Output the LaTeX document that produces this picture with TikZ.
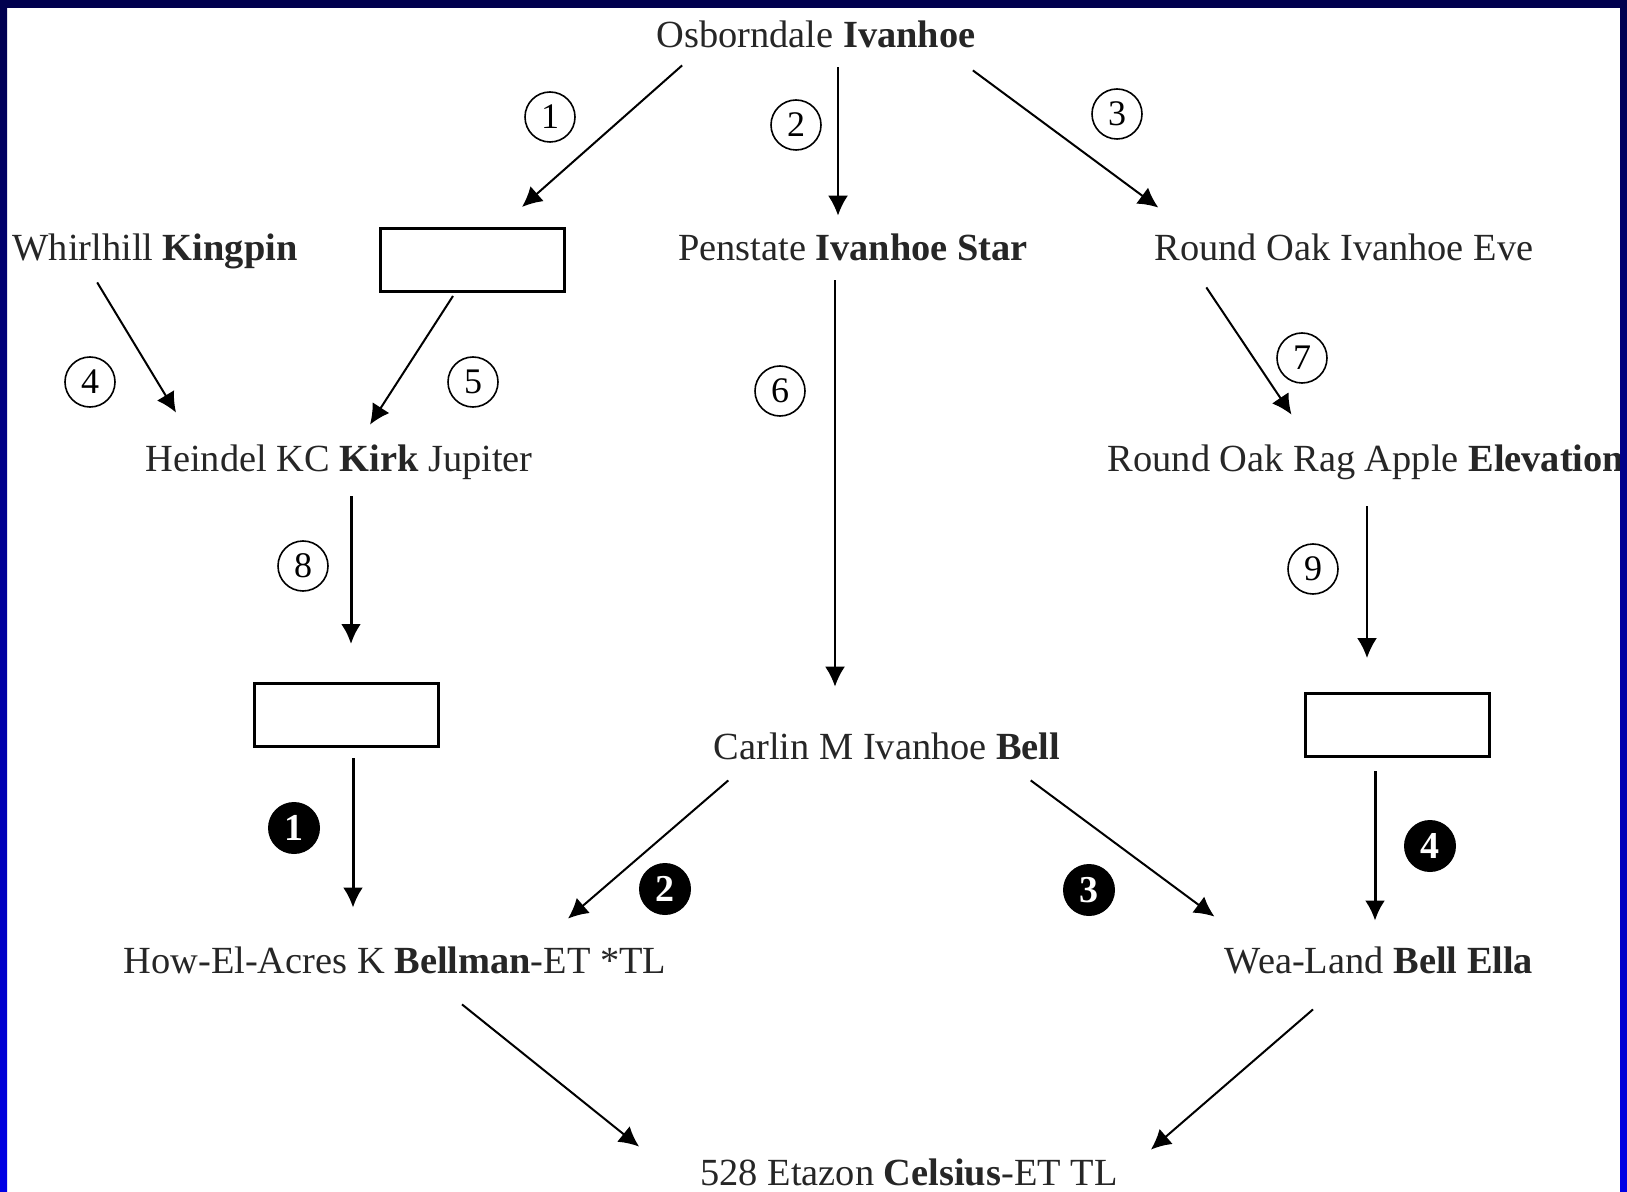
\documentclass[tikz,border=0pt]{standalone}
\usepackage{fontspec}
\setmainfont{Liberation Serif}
\usepackage{xcolor}
\usepackage{tikz}
\usetikzlibrary{arrows.meta,positioning,calc}

\definecolor{bandtop}{RGB}{0,0,78}
\definecolor{bandbot}{RGB}{0,0,230}

\tikzset{
  animal/.style={inner sep=0pt, text height=14pt, text depth=4pt,
    font=\fontsize{19.2}{24}\selectfont, text=black!85},
  blank/.style={draw, line width=1.5pt, minimum width=92pt,
    minimum height=31.5pt, inner sep=0pt},
  num/.style={circle, draw, line width=0.8pt, minimum size=25pt,
    inner sep=0pt, font=\fontsize{18}{20}\selectfont},
  bnum/.style={circle, fill=black, text=white, minimum size=26pt,
    inner sep=0pt, font=\bfseries\fontsize{19}{20}\selectfont},
  arr/.style={-{Latex[length=10pt,width=10pt]}, line width=1pt},
  tarr/.style={arr, line width=1.5pt}
}

\begin{document}
\begin{tikzpicture}[x=0.5pt, y=-0.5pt]
\useasboundingbox (0,0) rectangle (1627,1192);
\fill[white] (0,0) rectangle (1627,1192);

% Animals
\node[animal] (osb) at (816,38) {Osborndale \textbf{Ivanhoe}};
\node[animal] (whirl) at (155,251) {Whirlhill \textbf{Kingpin}};
\node[blank] (box1) at (472,260) {};
\node[animal] (pens) at (853,251) {Penstate \textbf{Ivanhoe Star}};
\node[animal] (eve) at (1344,251) {Round Oak Ivanhoe Eve};
\node[animal] (heindel) at (339,461) {Heindel KC \textbf{Kirk} Jupiter};
\node[animal] (elev) at (1366,461) {Round Oak Rag Apple \textbf{Elevation}};
\node[blank] (box2) at (346,715) {};
\node[animal] (carlin) at (887,749) {Carlin M Ivanhoe \textbf{Bell}};
\node[blank] (box3) at (1397,725) {};
\node[animal] (how) at (395,963) {How-El-Acres K \textbf{Bellman}-ET *TL};
\node[animal] (wea) at (1379,963) {Wea-Land \textbf{Bell Ella}};
\node[animal] (eta) at (909,1175) {528 Etazon \textbf{Celsius}-ET TL};

% Arrows
\draw[arr] ([shift={(26,9)}]osb.south west) -- ([shift={(50,-20)}]box1.north);
\draw[arr] ([shift={(22,11)}]osb.south) -- ([shift={(-15,-17)}]pens.north);
\draw[arr] ([shift={(-3,14)}]osb.south east) -- ([shift={(4,-25)}]eve.north west);
\draw[arr] ([shift={(85,13)}]whirl.south west) -- ([shift={(31,-30)}]heindel.north west);
\draw[arr] ([shift={(-19,3)}]box1.south) -- ([shift={(31,-18)}]heindel.north);
\draw[arr] ([shift={(-18,11)}]pens.south) -- ([shift={(-52,-44)}]carlin.north);
\draw[arr] ([shift={(52,18)}]eve.south west) -- ([shift={(184,-28)}]elev.north west);
\draw[tarr] ([shift={(12,17)}]heindel.south) -- ([shift={(5,-38)}]box2.north);
\draw[arr] ([shift={(1,27)}]elev.south) -- ([shift={(-30,-34)}]box3.north);
\draw[tarr] ([shift={(7,10)}]box2.south) -- ([shift={(-42,-37)}]how.north);
\draw[arr] ([shift={(15,13)}]carlin.south west) -- ([shift={(173,-26)}]how.north);
\draw[arr] ([shift={(-30,13)}]carlin.south east) -- ([shift={(-10,-28)}]wea.north west);
\draw[tarr] ([shift={(-22,13)}]box3.south) -- ([shift={(-4,-24)}]wea.north);
\draw[arr] ([shift={(67,23)}]how.south) -- ([shift={(-61,-10)}]eta.north west);
\draw[arr] ([shift={(-66,28)}]wea.south) -- ([shift={(33,-7)}]eta.north east);

% Numbers
\node[num] (n1) at (550,117) {1};
\node[num] (n2) at (796,125) {2};
\node[num] (n3) at (1117,114) {3};
\node[num] (n4) at (90,382) {4};
\node[num] (n5) at (473,382) {5};
\node[num] (n6) at (780,391) {6};
\node[num] (n7) at (1302,358) {7};
\node[num] (n8) at (303,566) {8};
\node[num] (n9) at (1313,569) {9};
\node[bnum] (k1) at (294,828) {1};
\node[bnum] (k2) at (665,889) {2};
\node[bnum] (k3) at (1089,890) {3};
\node[bnum] (k4) at (1430,846) {4};

% Frame
\shade[top color=bandtop, bottom color=bandbot] (0,0) rectangle (7,1192);
\shade[top color=bandtop, bottom color=bandbot] (1620,0) rectangle (1627,1192);
\fill[bandtop] (0,0) rectangle (1627,8);
\end{tikzpicture}
\end{document}
